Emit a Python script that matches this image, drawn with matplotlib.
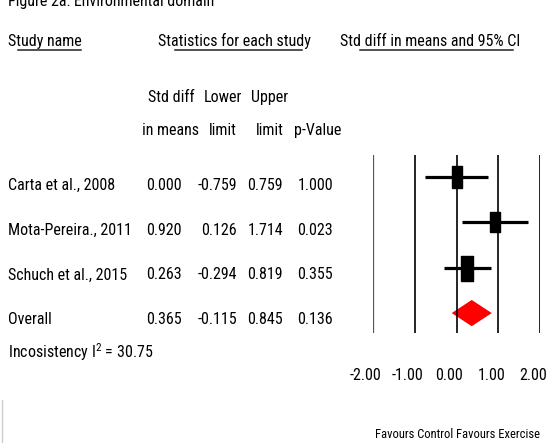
import matplotlib
matplotlib.use("Agg")
import matplotlib.pyplot as plt
from matplotlib import font_manager
from matplotlib.patches import Polygon
from matplotlib.transforms import ScaledTranslation

# Forest plot data
studies = ["Carta et al., 2008", "Mota-Pereira., 2011", "Schuch et al., 2015"]
smd = [0.000, 0.920, 0.263]
lower = [-0.759, 0.126, -0.294]
upper = [0.759, 1.714, 0.819]
pvals = [1.000, 0.023, 0.355]
overall_label = "Overall"
overall = [0.365, -0.115, 0.845, 0.136]   # smd, lower, upper, p
i2 = 30.75
xticks = [-2, -1, 0, 1, 2]


def pick_font(names):
    for n in names:
        try:
            font_manager.findfont(n, fallback_to_default=False)
            return n
        except ValueError:
            pass
    return None


# the original uses a narrow font; fall back to a smaller regular one
font = pick_font(["Roboto Condensed", "Liberation Sans Narrow", "DejaVu Sans Condensed"])
fs, fs_small = 11.5, 9
if font is None:
    font = "Liberation Sans"
    fs, fs_small = 9.5, 8
plt.rcParams["font.family"] = [font, "DejaVu Sans"]
plt.rcParams["mathtext.fontset"] = "custom"
plt.rcParams["mathtext.rm"] = font
plt.rcParams["mathtext.it"] = font

fig = plt.figure(figsize=(5.48, 4.43), dpi=100)

# text layer in pixel coordinates
tax = fig.add_axes([0, 0, 1, 1])
tax.set_xlim(0, 548)
tax.set_ylim(443, 0)
tax.axis("off")

tax.text(8, 6, "Figure 2a: Environmental domain", fontsize=fs, va="baseline")

tax.text(8, 46, "Study name", fontsize=fs, va="baseline")
tax.text(158, 46, "Statistics for each study", fontsize=fs, va="baseline")
tax.text(340, 46, "Std diff in means and 95% CI", fontsize=fs, va="baseline")
for x0, x1 in [(18, 81), (175, 302), (360, 513)]:
    tax.plot([x0, x1], [50, 50], color="#222222", lw=1.1)

col_right = [182, 237, 283, 333]
col_head = [171, 223, 270, 318]
head1 = ["Std diff", "Lower", "Upper", ""]
head2 = ["in means", "limit", "limit", "p-Value"]
for cx, h1, h2 in zip(col_head, head1, head2):
    tax.text(cx, 102, h1, fontsize=fs, ha="center", va="baseline")
    tax.text(cx, 135, h2, fontsize=fs, ha="center", va="baseline")

names = studies + [overall_label]
table = list(zip(smd, lower, upper, pvals)) + [tuple(overall)]
for i, (name, vals) in enumerate(zip(names, table)):
    yb = 190 + i * 44.7
    tax.text(8, yb, name, fontsize=fs, va="baseline")
    for cx, v in zip(col_right, vals):
        tax.text(cx, yb, f"{v:.3f}", fontsize=fs, ha="right", va="baseline")

tax.text(8, 358, f"Incosistency I$^2$ = {i2:.2f}", fontsize=fs, va="baseline")

tax.text(453, 438, "Favours Control", fontsize=fs_small, ha="right", va="baseline")
tax.text(456, 438, "Favours Exercise", fontsize=fs_small, ha="left", va="baseline")

# stray edge from the original screenshot
tax.plot([2, 2], [400, 443], color="#cccccc", lw=1)

# forest panel
ax = fig.add_axes([373 / 548, (443 - 333) / 443, 167 / 548, 178 / 443])
ax.patch.set_alpha(0)
ax.set_xlim(-2, 2)
ax.set_ylim(3.44, -0.49)
for t in xticks:
    ax.axvline(t, color="#555555" if t == -2 else "black", lw=0.9 if t == -2 else 1.2)

rows = list(range(len(studies)))
ax.hlines(rows, lower, upper, color="black", lw=2.3)
box_h = [16, 14.5, 18]
box = [(-0.46, -1), (0.46, -1), (0.46, 1), (-0.46, 1), (-0.46, -1)]
for r, m, h in zip(rows, smd, box_h):
    ax.plot(m, r, marker=box, ms=h, color="black", ls="none")

yo = len(studies)
est, lo, hi = overall[0], overall[1], overall[2]
ax.add_patch(Polygon([(lo, yo), (est, yo - 0.29), (hi, yo), (est, yo + 0.29)],
                     closed=True, color="red", lw=0))

ax.set_xticks(xticks)
ax.set_xticklabels([f"{t:.2f}" for t in xticks], fontsize=fs)
ax.tick_params(axis="x", length=0, pad=25)
ax.set_yticks([])
for s in ax.spines.values():
    s.set_visible(False)
for lab in ax.get_xticklabels():
    lab.set_transform(lab.get_transform() + ScaledTranslation(-7 / 100, 0, fig.dpi_scale_trans))

fig.savefig("out.png", dpi=100)
